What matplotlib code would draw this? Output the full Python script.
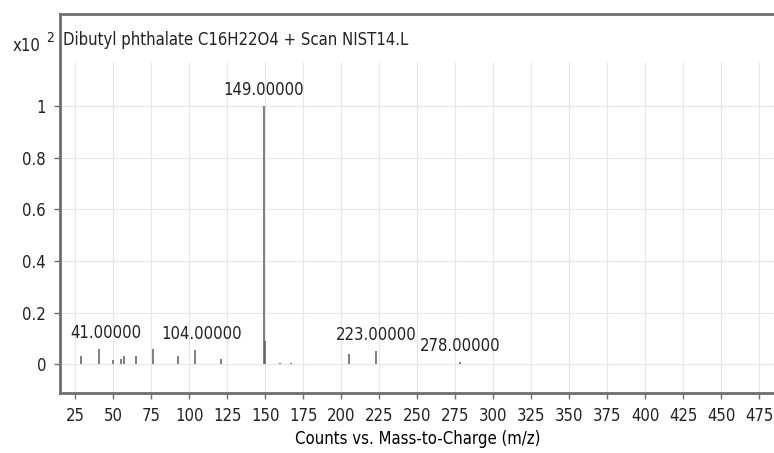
import matplotlib
matplotlib.use("Agg")
import matplotlib.pyplot as plt

plt.rcParams.update({
    "font.family": "DejaVu Sans",
    "font.stretch": "condensed",
    "font.size": 12,
    "text.color": "#222222",
    "axes.edgecolor": "#6e6e6e",
    "xtick.color": "#6e6e6e",
    "ytick.color": "#6e6e6e",
    "xtick.labelcolor": "#222222",
    "ytick.labelcolor": "#222222",
})

# spectrum (relative abundance, x10^2)
mz = [29, 41, 50, 55, 57, 65, 76, 93, 104, 121, 149, 150, 160, 167, 205, 223, 278]
abundance = [0.03, 0.06, 0.015, 0.02, 0.03, 0.03, 0.06, 0.03, 0.055, 0.02,
             1.0, 0.09, 0.005, 0.005, 0.04, 0.05, 0.01]
labelled = [41, 104, 149, 223, 278]

x_ticks = list(range(25, 500, 25))
y_ticks = [0, 0.2, 0.4, 0.6, 0.8, 1.0]
y_tick_labels = ["0", "0.2", "0.4", "0.6", "0.8", "1"]

title = "Dibutyl phthalate C16H22O4 + Scan NIST14.L"
xlabel = "Counts vs. Mass-to-Charge (m/z)"

fig = plt.figure(figsize=(7.74, 4.53), dpi=100)
ax = fig.add_axes([60 / 774, 1 - 393 / 453, 716 / 774, 379 / 453])
ymin, ymax = -0.112, 1.357

# grid: horizontal at y ticks, vertical ones stop below the title band
ax.vlines(x_ticks, ymin, 1.17, color="#e6e6e6", linewidth=0.8, zorder=0)
ax.hlines(y_ticks, 15, 490, color="#e6e6e6", linewidth=0.8, zorder=0)

ax.vlines(mz, 0, abundance, color="#5c5c5c", linewidth=1.1, zorder=3)

for m, a in zip(mz, abundance):
    if m in labelled:
        dx = 5 if a < 0.08 and m < 130 else 0
        ax.annotate(f"{m:.5f}", (m, a), xytext=(dx, 5), textcoords="offset points",
                    ha="center", va="bottom", fontsize=12)

ax.set_xlim(15.1, 486)
ax.set_ylim(ymin, ymax)
ax.set_xticks(x_ticks)
ax.set_yticks(y_ticks)
ax.set_yticklabels(y_tick_labels)
ax.tick_params(direction="out", length=4, width=1, labelsize=12, pad=6)

for side in ["left", "bottom", "top"]:
    ax.spines[side].set_linewidth(2)
ax.spines["right"].set_visible(False)

ax.set_xlabel(xlabel, fontsize=12, labelpad=4)
ax.text(0.004, 0.931, title, transform=ax.transAxes, ha="left", va="center", fontsize=12)

fig.text(13 / 774, 1 - 46 / 453, "x10", ha="left", va="center", fontsize=12)
fig.text(46 / 774, 1 - 38 / 453, "2", ha="left", va="center", fontsize=10)

fig.savefig("out.png", dpi=100)
